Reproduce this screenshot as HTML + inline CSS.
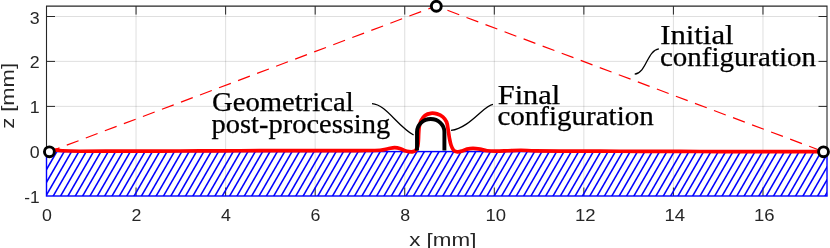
<!DOCTYPE html>
<html><head><meta charset="utf-8"><style>html,body{margin:0;padding:0;background:#fff}svg{display:block;will-change:transform}text{font-family:"Liberation Sans",sans-serif}text.sf{font-family:"Liberation Serif",serif}</style></head><body>
<svg width="830" height="248" viewBox="0 0 830 248">
<rect width="830" height="248" fill="#fff"/>
<line x1="136.06" y1="6.1" x2="136.06" y2="196.0" stroke="#262626" stroke-opacity="0.15" stroke-width="1"/>
<line x1="225.62" y1="6.1" x2="225.62" y2="196.0" stroke="#262626" stroke-opacity="0.15" stroke-width="1"/>
<line x1="315.18" y1="6.1" x2="315.18" y2="196.0" stroke="#262626" stroke-opacity="0.15" stroke-width="1"/>
<line x1="404.74" y1="6.1" x2="404.74" y2="196.0" stroke="#262626" stroke-opacity="0.15" stroke-width="1"/>
<line x1="494.30" y1="6.1" x2="494.30" y2="196.0" stroke="#262626" stroke-opacity="0.15" stroke-width="1"/>
<line x1="583.86" y1="6.1" x2="583.86" y2="196.0" stroke="#262626" stroke-opacity="0.15" stroke-width="1"/>
<line x1="673.42" y1="6.1" x2="673.42" y2="196.0" stroke="#262626" stroke-opacity="0.15" stroke-width="1"/>
<line x1="762.98" y1="6.1" x2="762.98" y2="196.0" stroke="#262626" stroke-opacity="0.15" stroke-width="1"/>
<line x1="46.5" y1="16.5" x2="827.0" y2="16.5" stroke="#262626" stroke-opacity="0.15" stroke-width="1"/>
<line x1="46.5" y1="61.4" x2="827.0" y2="61.4" stroke="#262626" stroke-opacity="0.15" stroke-width="1"/>
<line x1="46.5" y1="106.4" x2="827.0" y2="106.4" stroke="#262626" stroke-opacity="0.15" stroke-width="1"/>
<line x1="46.5" y1="151.3" x2="827.0" y2="151.3" stroke="#262626" stroke-opacity="0.15" stroke-width="1"/>
<line x1="136.06" y1="196.0" x2="136.06" y2="187.5" stroke="#262626" stroke-width="1"/>
<line x1="225.62" y1="196.0" x2="225.62" y2="187.5" stroke="#262626" stroke-width="1"/>
<line x1="315.18" y1="196.0" x2="315.18" y2="187.5" stroke="#262626" stroke-width="1"/>
<line x1="404.74" y1="196.0" x2="404.74" y2="187.5" stroke="#262626" stroke-width="1"/>
<line x1="494.30" y1="196.0" x2="494.30" y2="187.5" stroke="#262626" stroke-width="1"/>
<line x1="583.86" y1="196.0" x2="583.86" y2="187.5" stroke="#262626" stroke-width="1"/>
<line x1="673.42" y1="196.0" x2="673.42" y2="187.5" stroke="#262626" stroke-width="1"/>
<line x1="762.98" y1="196.0" x2="762.98" y2="187.5" stroke="#262626" stroke-width="1"/>
<clipPath id="hc"><rect x="46.5" y="151.6" width="780.5" height="44.400000000000006"/></clipPath>
<g clip-path="url(#hc)" stroke="#0000ff" stroke-width="1.55">
<line x1="43.29" y1="149.60" x2="15.34" y2="198.00"/>
<line x1="50.64" y1="149.60" x2="22.69" y2="198.00"/>
<line x1="57.99" y1="149.60" x2="30.04" y2="198.00"/>
<line x1="65.34" y1="149.60" x2="37.39" y2="198.00"/>
<line x1="72.69" y1="149.60" x2="44.74" y2="198.00"/>
<line x1="80.04" y1="149.60" x2="52.09" y2="198.00"/>
<line x1="87.39" y1="149.60" x2="59.44" y2="198.00"/>
<line x1="94.74" y1="149.60" x2="66.79" y2="198.00"/>
<line x1="102.09" y1="149.60" x2="74.14" y2="198.00"/>
<line x1="109.44" y1="149.60" x2="81.49" y2="198.00"/>
<line x1="116.79" y1="149.60" x2="88.84" y2="198.00"/>
<line x1="124.14" y1="149.60" x2="96.19" y2="198.00"/>
<line x1="131.49" y1="149.60" x2="103.54" y2="198.00"/>
<line x1="138.84" y1="149.60" x2="110.89" y2="198.00"/>
<line x1="146.19" y1="149.60" x2="118.24" y2="198.00"/>
<line x1="153.54" y1="149.60" x2="125.59" y2="198.00"/>
<line x1="160.89" y1="149.60" x2="132.94" y2="198.00"/>
<line x1="168.24" y1="149.60" x2="140.29" y2="198.00"/>
<line x1="175.59" y1="149.60" x2="147.64" y2="198.00"/>
<line x1="182.94" y1="149.60" x2="154.99" y2="198.00"/>
<line x1="190.29" y1="149.60" x2="162.34" y2="198.00"/>
<line x1="197.64" y1="149.60" x2="169.69" y2="198.00"/>
<line x1="204.99" y1="149.60" x2="177.04" y2="198.00"/>
<line x1="212.34" y1="149.60" x2="184.39" y2="198.00"/>
<line x1="219.69" y1="149.60" x2="191.74" y2="198.00"/>
<line x1="227.04" y1="149.60" x2="199.09" y2="198.00"/>
<line x1="234.39" y1="149.60" x2="206.44" y2="198.00"/>
<line x1="241.74" y1="149.60" x2="213.79" y2="198.00"/>
<line x1="249.09" y1="149.60" x2="221.14" y2="198.00"/>
<line x1="256.44" y1="149.60" x2="228.49" y2="198.00"/>
<line x1="263.79" y1="149.60" x2="235.84" y2="198.00"/>
<line x1="271.14" y1="149.60" x2="243.19" y2="198.00"/>
<line x1="278.49" y1="149.60" x2="250.54" y2="198.00"/>
<line x1="285.84" y1="149.60" x2="257.89" y2="198.00"/>
<line x1="293.19" y1="149.60" x2="265.24" y2="198.00"/>
<line x1="300.54" y1="149.60" x2="272.59" y2="198.00"/>
<line x1="307.89" y1="149.60" x2="279.94" y2="198.00"/>
<line x1="315.24" y1="149.60" x2="287.29" y2="198.00"/>
<line x1="322.59" y1="149.60" x2="294.64" y2="198.00"/>
<line x1="329.94" y1="149.60" x2="301.99" y2="198.00"/>
<line x1="337.29" y1="149.60" x2="309.34" y2="198.00"/>
<line x1="344.64" y1="149.60" x2="316.69" y2="198.00"/>
<line x1="351.99" y1="149.60" x2="324.04" y2="198.00"/>
<line x1="359.34" y1="149.60" x2="331.39" y2="198.00"/>
<line x1="366.69" y1="149.60" x2="338.74" y2="198.00"/>
<line x1="374.04" y1="149.60" x2="346.09" y2="198.00"/>
<line x1="381.39" y1="149.60" x2="353.44" y2="198.00"/>
<line x1="388.74" y1="149.60" x2="360.79" y2="198.00"/>
<line x1="396.09" y1="149.60" x2="368.14" y2="198.00"/>
<line x1="403.44" y1="149.60" x2="375.49" y2="198.00"/>
<line x1="410.79" y1="149.60" x2="382.84" y2="198.00"/>
<line x1="418.14" y1="149.60" x2="390.19" y2="198.00"/>
<line x1="425.49" y1="149.60" x2="397.54" y2="198.00"/>
<line x1="432.84" y1="149.60" x2="404.89" y2="198.00"/>
<line x1="440.19" y1="149.60" x2="412.24" y2="198.00"/>
<line x1="447.54" y1="149.60" x2="419.59" y2="198.00"/>
<line x1="454.89" y1="149.60" x2="426.94" y2="198.00"/>
<line x1="462.24" y1="149.60" x2="434.29" y2="198.00"/>
<line x1="469.59" y1="149.60" x2="441.64" y2="198.00"/>
<line x1="476.94" y1="149.60" x2="448.99" y2="198.00"/>
<line x1="484.29" y1="149.60" x2="456.34" y2="198.00"/>
<line x1="491.64" y1="149.60" x2="463.69" y2="198.00"/>
<line x1="498.99" y1="149.60" x2="471.04" y2="198.00"/>
<line x1="506.34" y1="149.60" x2="478.39" y2="198.00"/>
<line x1="513.69" y1="149.60" x2="485.74" y2="198.00"/>
<line x1="521.04" y1="149.60" x2="493.09" y2="198.00"/>
<line x1="528.39" y1="149.60" x2="500.44" y2="198.00"/>
<line x1="535.74" y1="149.60" x2="507.79" y2="198.00"/>
<line x1="543.09" y1="149.60" x2="515.14" y2="198.00"/>
<line x1="550.44" y1="149.60" x2="522.49" y2="198.00"/>
<line x1="557.79" y1="149.60" x2="529.84" y2="198.00"/>
<line x1="565.14" y1="149.60" x2="537.19" y2="198.00"/>
<line x1="572.49" y1="149.60" x2="544.54" y2="198.00"/>
<line x1="579.84" y1="149.60" x2="551.89" y2="198.00"/>
<line x1="587.19" y1="149.60" x2="559.24" y2="198.00"/>
<line x1="594.54" y1="149.60" x2="566.59" y2="198.00"/>
<line x1="601.89" y1="149.60" x2="573.94" y2="198.00"/>
<line x1="609.24" y1="149.60" x2="581.29" y2="198.00"/>
<line x1="616.59" y1="149.60" x2="588.64" y2="198.00"/>
<line x1="623.94" y1="149.60" x2="595.99" y2="198.00"/>
<line x1="631.29" y1="149.60" x2="603.34" y2="198.00"/>
<line x1="638.64" y1="149.60" x2="610.69" y2="198.00"/>
<line x1="645.99" y1="149.60" x2="618.04" y2="198.00"/>
<line x1="653.34" y1="149.60" x2="625.39" y2="198.00"/>
<line x1="660.69" y1="149.60" x2="632.74" y2="198.00"/>
<line x1="668.04" y1="149.60" x2="640.09" y2="198.00"/>
<line x1="675.39" y1="149.60" x2="647.44" y2="198.00"/>
<line x1="682.74" y1="149.60" x2="654.79" y2="198.00"/>
<line x1="690.09" y1="149.60" x2="662.14" y2="198.00"/>
<line x1="697.44" y1="149.60" x2="669.49" y2="198.00"/>
<line x1="704.79" y1="149.60" x2="676.84" y2="198.00"/>
<line x1="712.14" y1="149.60" x2="684.19" y2="198.00"/>
<line x1="719.49" y1="149.60" x2="691.54" y2="198.00"/>
<line x1="726.84" y1="149.60" x2="698.89" y2="198.00"/>
<line x1="734.19" y1="149.60" x2="706.24" y2="198.00"/>
<line x1="741.54" y1="149.60" x2="713.59" y2="198.00"/>
<line x1="748.89" y1="149.60" x2="720.94" y2="198.00"/>
<line x1="756.24" y1="149.60" x2="728.29" y2="198.00"/>
<line x1="763.59" y1="149.60" x2="735.64" y2="198.00"/>
<line x1="770.94" y1="149.60" x2="742.99" y2="198.00"/>
<line x1="778.29" y1="149.60" x2="750.34" y2="198.00"/>
<line x1="785.64" y1="149.60" x2="757.69" y2="198.00"/>
<line x1="792.99" y1="149.60" x2="765.04" y2="198.00"/>
<line x1="800.34" y1="149.60" x2="772.39" y2="198.00"/>
<line x1="807.69" y1="149.60" x2="779.74" y2="198.00"/>
<line x1="815.04" y1="149.60" x2="787.09" y2="198.00"/>
<line x1="822.39" y1="149.60" x2="794.44" y2="198.00"/>
<line x1="829.74" y1="149.60" x2="801.79" y2="198.00"/>
<line x1="837.09" y1="149.60" x2="809.14" y2="198.00"/>
<line x1="844.44" y1="149.60" x2="816.49" y2="198.00"/>
<line x1="851.79" y1="149.60" x2="823.84" y2="198.00"/>
<line x1="859.14" y1="149.60" x2="831.19" y2="198.00"/>
<line x1="866.49" y1="149.60" x2="838.54" y2="198.00"/>
<line x1="873.84" y1="149.60" x2="845.89" y2="198.00"/>
<line x1="881.19" y1="149.60" x2="853.24" y2="198.00"/>
<line x1="888.54" y1="149.60" x2="860.59" y2="198.00"/>
</g>
<rect x="46.5" y="151.6" width="780.5" height="44.400000000000006" fill="none" stroke="#0000ff" stroke-width="1.4"/>
<path d="M46.5,151.6 V6.1 H827.0 V151.6" fill="none" stroke="#262626" stroke-width="1.1"/>
<line x1="46.50" y1="6.1" x2="46.50" y2="14.6" stroke="#262626" stroke-width="1"/>
<line x1="136.06" y1="6.1" x2="136.06" y2="14.6" stroke="#262626" stroke-width="1"/>
<line x1="225.62" y1="6.1" x2="225.62" y2="14.6" stroke="#262626" stroke-width="1"/>
<line x1="315.18" y1="6.1" x2="315.18" y2="14.6" stroke="#262626" stroke-width="1"/>
<line x1="404.74" y1="6.1" x2="404.74" y2="14.6" stroke="#262626" stroke-width="1"/>
<line x1="494.30" y1="6.1" x2="494.30" y2="14.6" stroke="#262626" stroke-width="1"/>
<line x1="583.86" y1="6.1" x2="583.86" y2="14.6" stroke="#262626" stroke-width="1"/>
<line x1="673.42" y1="6.1" x2="673.42" y2="14.6" stroke="#262626" stroke-width="1"/>
<line x1="762.98" y1="6.1" x2="762.98" y2="14.6" stroke="#262626" stroke-width="1"/>
<line x1="46.5" y1="16.5" x2="55.0" y2="16.5" stroke="#262626" stroke-width="1"/>
<line x1="827.0" y1="16.5" x2="818.5" y2="16.5" stroke="#262626" stroke-width="1"/>
<line x1="46.5" y1="61.4" x2="55.0" y2="61.4" stroke="#262626" stroke-width="1"/>
<line x1="827.0" y1="61.4" x2="818.5" y2="61.4" stroke="#262626" stroke-width="1"/>
<line x1="46.5" y1="106.4" x2="55.0" y2="106.4" stroke="#262626" stroke-width="1"/>
<line x1="827.0" y1="106.4" x2="818.5" y2="106.4" stroke="#262626" stroke-width="1"/>
<line x1="46.5" y1="151.3" x2="55.0" y2="151.3" stroke="#262626" stroke-width="1"/>
<line x1="827.0" y1="151.3" x2="818.5" y2="151.3" stroke="#262626" stroke-width="1"/>
<text x="46.90" y="221.1" font-size="17.3" text-anchor="middle" textLength="9.9" lengthAdjust="spacingAndGlyphs" fill="#262626">0</text>
<text x="136.46" y="221.1" font-size="17.3" text-anchor="middle" textLength="9.9" lengthAdjust="spacingAndGlyphs" fill="#262626">2</text>
<text x="226.02" y="221.1" font-size="17.3" text-anchor="middle" textLength="9.9" lengthAdjust="spacingAndGlyphs" fill="#262626">4</text>
<text x="315.58" y="221.1" font-size="17.3" text-anchor="middle" textLength="9.9" lengthAdjust="spacingAndGlyphs" fill="#262626">6</text>
<text x="405.14" y="221.1" font-size="17.3" text-anchor="middle" textLength="9.9" lengthAdjust="spacingAndGlyphs" fill="#262626">8</text>
<text x="495.70" y="221.1" font-size="17.3" text-anchor="middle" textLength="20.6" lengthAdjust="spacingAndGlyphs" fill="#262626">10</text>
<text x="585.26" y="221.1" font-size="17.3" text-anchor="middle" textLength="20.6" lengthAdjust="spacingAndGlyphs" fill="#262626">12</text>
<text x="674.82" y="221.1" font-size="17.3" text-anchor="middle" textLength="20.6" lengthAdjust="spacingAndGlyphs" fill="#262626">14</text>
<text x="764.38" y="221.1" font-size="17.3" text-anchor="middle" textLength="20.6" lengthAdjust="spacingAndGlyphs" fill="#262626">16</text>
<text x="39.7" y="23.50" font-size="17.3" text-anchor="end" textLength="9.9" lengthAdjust="spacingAndGlyphs" fill="#262626">3</text>
<text x="39.7" y="68.40" font-size="17.3" text-anchor="end" textLength="9.9" lengthAdjust="spacingAndGlyphs" fill="#262626">2</text>
<text x="39.7" y="113.40" font-size="17.3" text-anchor="end" textLength="9.9" lengthAdjust="spacingAndGlyphs" fill="#262626">1</text>
<text x="39.7" y="158.30" font-size="17.3" text-anchor="end" textLength="9.9" lengthAdjust="spacingAndGlyphs" fill="#262626">0</text>
<text x="39.7" y="203.00" font-size="17.3" text-anchor="end" textLength="15.4" lengthAdjust="spacingAndGlyphs" fill="#262626">-1</text>
<text x="409.2" y="245.7" font-size="19" textLength="67.2" lengthAdjust="spacingAndGlyphs" fill="#262626">x [mm]</text>
<text transform="translate(13.8,128.8) rotate(-90)" font-size="19" textLength="65.8" lengthAdjust="spacingAndGlyphs" fill="#262626">z [mm]</text>
<path d="M49.4,151.7 L436,6 L823.5,151.7" fill="none" stroke="#ff0000" stroke-width="1.2" stroke-dasharray="12.6 7.74" stroke-dashoffset="1.78"/>
<path d="M52,151.04999999999998 C52.67,150.88 54.33,150.10 56,150.04999999999998 C57.67,150.00 58.00,150.55 62,150.75 C66.00,150.95 70.33,151.18 80,151.25 C89.67,151.32 106.67,151.18 120,151.14999999999998 C133.33,151.12 146.67,151.08 160,151.04999999999998 C173.33,151.02 186.67,151.00 200,150.95 C213.33,150.90 226.67,150.80 240,150.75 C253.33,150.70 266.67,150.67 280,150.64999999999998 C293.33,150.63 306.67,150.67 320,150.64999999999998 C333.33,150.63 350.00,150.62 360,150.54999999999998 C370.00,150.48 375.33,150.55 380,150.25 C384.67,149.95 385.58,149.18 388,148.75 C390.42,148.32 392.42,147.67 394.5,147.64999999999998 C396.58,147.63 398.75,148.13 400.5,148.64999999999998 C402.25,149.17 403.58,150.25 405,150.75 C406.42,151.25 407.67,151.50 409,151.64999999999998 C410.33,151.80 411.83,151.93 413,151.64999999999998 C414.17,151.37 415.20,150.89 416,149.95 C416.80,149.01 417.40,147.66 417.8,146 C418.20,144.34 418.25,142.17 418.4,140 C418.55,137.83 418.55,135.25 418.7,133 C418.85,130.75 418.88,128.62 419.3,126.5 C419.72,124.38 420.25,122.15 421.2,120.3 C422.15,118.45 423.40,116.57 425,115.4 C426.60,114.23 428.80,113.55 430.8,113.3 C432.80,113.05 435.00,113.32 437,113.9 C439.00,114.48 441.20,115.45 442.8,116.8 C444.40,118.15 445.70,119.80 446.6,122 C447.50,124.20 447.73,127.33 448.2,130 C448.67,132.67 448.93,135.50 449.4,138 C449.87,140.50 450.30,142.96 451,145 C451.70,147.04 452.52,149.11 453.6,150.25 C454.68,151.39 456.10,151.72 457.5,151.85 C458.90,151.98 460.42,151.50 462,151.04999999999998 C463.58,150.60 465.17,149.60 467,149.14999999999998 C468.83,148.70 470.83,148.35 473,148.35 C475.17,148.35 477.67,148.75 480,149.14999999999998 C482.33,149.55 484.33,150.42 487,150.75 C489.67,151.08 492.50,151.15 496,151.14999999999998 C499.50,151.15 503.83,150.90 508,150.75 C512.17,150.60 516.50,150.23 521,150.25 C525.50,150.27 528.50,150.72 535,150.85 C541.50,150.98 549.17,151.00 560,151.04999999999998 C570.83,151.10 586.67,151.10 600,151.14999999999998 C613.33,151.20 626.67,151.30 640,151.35 C653.33,151.40 666.67,151.42 680,151.45 C693.33,151.48 706.67,151.53 720,151.54999999999998 C733.33,151.57 746.67,151.55 760,151.54999999999998 C773.33,151.55 790.00,151.55 800,151.54999999999998 C810.00,151.55 816.67,151.55 820,151.54999999999998" fill="none" stroke="#ff0000" stroke-width="3.7" stroke-linecap="round" stroke-linejoin="round"/>
<path d="M417.0,150.6 V132 C417.0,124.8 423.1,119.05 430.7,119.05 C438.3,119.05 444.4,124.8 444.4,132 V150.6" fill="none" stroke="#000" stroke-width="3.9"/>
<path d="M372,103.6 C386,104.3 397,125.8 413.6,135" fill="none" stroke="#000" stroke-width="1.3"/>
<path d="M493,104.4 C484,105 470,128 451,130.4" fill="none" stroke="#000" stroke-width="1.3"/>
<path d="M658.9,48.9 C647,50.5 646.6,72.6 634.7,74.2" fill="none" stroke="#000" stroke-width="1.3"/>
<circle cx="49.4" cy="151.8" r="4.95" fill="#fff" stroke="#000" stroke-width="2.9"/>
<circle cx="436.3" cy="6.3" r="4.95" fill="#fff" stroke="#000" stroke-width="2.9"/>
<circle cx="823.5" cy="151.8" r="4.95" fill="#fff" stroke="#000" stroke-width="2.9"/>
<text x="212.0" y="111.3" class="sf" font-size="27" textLength="141.6" lengthAdjust="spacingAndGlyphs" fill="#000" stroke="#000" stroke-width="0.25">Geometrical</text>
<text x="211.6" y="132.7" class="sf" font-size="27" textLength="178.6" lengthAdjust="spacingAndGlyphs" fill="#000" stroke="#000" stroke-width="0.25">post-processing</text>
<text x="497.8" y="104.0" class="sf" font-size="27" textLength="62.4" lengthAdjust="spacingAndGlyphs" fill="#000" stroke="#000" stroke-width="0.25">Final</text>
<text x="497.4" y="125.4" class="sf" font-size="27" textLength="156.4" lengthAdjust="spacingAndGlyphs" fill="#000" stroke="#000" stroke-width="0.25">configuration</text>
<text x="660.2" y="44.4" class="sf" font-size="27" textLength="73.4" lengthAdjust="spacingAndGlyphs" fill="#000" stroke="#000" stroke-width="0.25">Initial</text>
<text x="660.0" y="65.5" class="sf" font-size="27" textLength="156.0" lengthAdjust="spacingAndGlyphs" fill="#000" stroke="#000" stroke-width="0.25">configuration</text>
</svg>
</body></html>
